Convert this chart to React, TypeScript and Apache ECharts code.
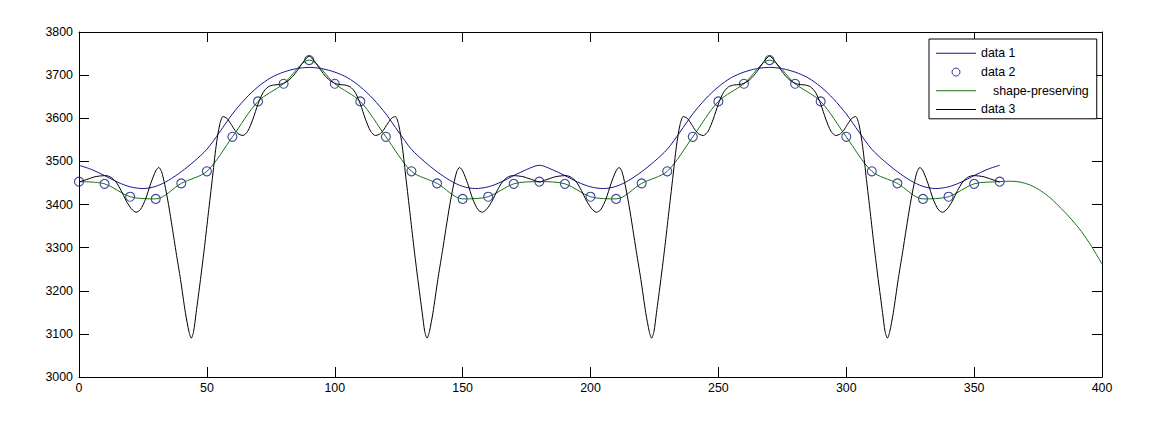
import React, { useEffect, useRef } from 'react';
import * as echarts from 'echarts';

const FONT = 'Liberation Sans, Arial, Helvetica, sans-serif';
const BLUE = '#16168f';
const NAVY = '#101088';
const GREEN = '#177217';
const BLACK = '#000000';

// data 1: smooth blue curve sampled every 5 units from x = 0 to 360
const data1Step = 5;
const data1Y = [
  3491, 3481, 3467, 3452, 3441, 3437, 3442, 3456, 3476, 3500, 3528, 3568, 3610, 3645, 3673, 3694, 3707, 3715, 3718,
  3715, 3707, 3694, 3673, 3645, 3610, 3568, 3528, 3500, 3476, 3456, 3442, 3437, 3441, 3452, 3467, 3481, 3491,
  3481, 3467, 3452, 3441, 3437, 3442, 3456, 3476, 3500, 3528, 3568, 3610, 3645, 3673, 3694, 3707, 3715, 3718,
  3715, 3707, 3694, 3673, 3645, 3610, 3568, 3528, 3500, 3476, 3456, 3442, 3437, 3441, 3452, 3467, 3481, 3491,
];

// data 2: circles at x = 0, 10, ..., 360
const data2X = [
  0, 10, 20, 30, 40, 50, 60, 70, 80, 90, 100, 110, 120, 130, 140, 150, 160, 170, 180,
  190, 200, 210, 220, 230, 240, 250, 260, 270, 280, 290, 300, 310, 320, 330, 340, 350, 360,
];
const data2Y = [
  3453, 3448, 3418, 3413, 3449, 3477, 3557, 3639, 3680, 3735, 3680, 3639, 3557, 3477, 3449, 3413, 3418, 3448, 3453,
  3448, 3418, 3413, 3449, 3477, 3557, 3639, 3680, 3735, 3680, 3639, 3557, 3477, 3449, 3413, 3418, 3448, 3453,
];

// shape-preserving curve beyond the last circle (extrapolated part)
const shapeTail: [number, number][] = [
  [364, 3454], [368, 3452], [372, 3445], [376, 3432], [380, 3414], [384, 3391],
  [388, 3366], [392, 3337], [396, 3302], [400, 3262],
];

// data 3: oscillating black curve
const data3: [number, number][] = [
  [0, 3452], [2, 3456], [4, 3460], [6, 3464], [8, 3466], [10.5, 3467], [12.5, 3463], [14.5, 3452],
  [16.5, 3432], [18.5, 3408], [20.5, 3390], [22.3, 3382], [24, 3388], [26, 3412], [28, 3448], [30, 3478],
  [31.2, 3486], [32.3, 3476], [33.5, 3447], [35, 3400], [36.5, 3345], [38, 3288], [39.7, 3226], [41.6, 3149],
  [43, 3105], [43.9, 3090], [44.8, 3105], [45.8, 3149], [47.5, 3226], [49.1, 3303], [50.6, 3381], [52.1, 3458],
  [53.6, 3535], [55, 3585], [56.3, 3604], [57.8, 3600], [59.5, 3586], [61, 3572], [62.5, 3563], [64.1, 3560],
  [66, 3570], [68, 3598], [70, 3633], [72, 3660], [74, 3673], [76, 3677], [78, 3678], [80, 3681],
  [82, 3688], [84, 3700], [86, 3716], [88, 3733], [90, 3744],
  [92, 3733], [94, 3716], [96, 3700], [98, 3688], [100, 3681], [102, 3678], [104, 3677], [106, 3673],
  [108, 3660], [110, 3633], [112, 3598], [114, 3570], [115.9, 3560], [117.5, 3563], [119, 3572], [120.5, 3586],
  [122.2, 3600], [123.7, 3604], [125, 3585], [126.4, 3535], [127.9, 3458], [129.4, 3381], [130.9, 3303], [132.5, 3226],
  [134.2, 3149], [135.2, 3105], [136.1, 3090], [137, 3105], [138.4, 3149], [140.3, 3226], [142, 3288], [143.5, 3345],
  [145, 3400], [146.5, 3447], [147.7, 3476], [148.8, 3486], [150, 3478], [152, 3448], [154, 3412], [156, 3388],
  [157.7, 3382], [159.5, 3390], [161.5, 3408], [163.5, 3432], [165.5, 3452], [167.5, 3463], [169.5, 3467], [172, 3466],
  [174, 3464], [176, 3460], [178, 3456], [180, 3452],
  [182, 3456], [184, 3460], [186, 3464], [188, 3466], [190.5, 3467], [192.5, 3463], [194.5, 3452],
  [196.5, 3432], [198.5, 3408], [200.5, 3390], [202.3, 3382], [204, 3388], [206, 3412], [208, 3448], [210, 3478],
  [211.2, 3486], [212.3, 3476], [213.5, 3447], [215, 3400], [216.5, 3345], [218, 3288], [219.7, 3226], [221.6, 3149],
  [223, 3105], [223.9, 3090], [224.8, 3105], [225.8, 3149], [227.5, 3226], [229.1, 3303], [230.6, 3381], [232.1, 3458],
  [233.6, 3535], [235, 3585], [236.3, 3604], [237.8, 3600], [239.5, 3586], [241, 3572], [242.5, 3563], [244.1, 3560],
  [246, 3570], [248, 3598], [250, 3633], [252, 3660], [254, 3673], [256, 3677], [258, 3678], [260, 3681],
  [262, 3688], [264, 3700], [266, 3716], [268, 3733], [270, 3744],
  [272, 3733], [274, 3716], [276, 3700], [278, 3688], [280, 3681], [282, 3678], [284, 3677], [286, 3673],
  [288, 3660], [290, 3633], [292, 3598], [294, 3570], [295.9, 3560], [297.5, 3563], [299, 3572], [300.5, 3586],
  [302.2, 3600], [303.7, 3604], [305, 3585], [306.4, 3535], [307.9, 3458], [309.4, 3381], [310.9, 3303], [312.5, 3226],
  [314.2, 3149], [315.2, 3105], [316.1, 3090], [317, 3105], [318.4, 3149], [320.3, 3226], [322, 3288], [323.5, 3345],
  [325, 3400], [326.5, 3447], [327.7, 3476], [328.8, 3486], [330, 3478], [332, 3448], [334, 3412], [336, 3388],
  [337.7, 3382], [339.5, 3390], [341.5, 3408], [343.5, 3432], [345.5, 3452], [347.5, 3463], [349.5, 3467], [352, 3466],
  [354, 3464], [356, 3460], [358, 3456], [360, 3452],
];

const X_MIN = 0, X_MAX = 400, X_INT = 50;
const Y_MIN = 3000, Y_MAX = 3800, Y_INT = 100;

const LINE_ICON = 'path://M0 0H40V1H0Z';

export default function App() {
  const ref = useRef<HTMLDivElement>(null);

  useEffect(() => {
    if (!ref.current) return;
    const chart = echarts.init(ref.current, undefined, { renderer: 'svg' });

    const data1 = data1Y.map((y, i) => [i * data1Step, y]);
    const data2 = data2X.map((x, i) => [x, data2Y[i]]);
    const shape = [...data2, ...shapeTail];

    const axisLine = { show: true, onZero: false, lineStyle: { color: BLACK, width: 1 } };
    const axisTick = { show: true, inside: true, length: 10, lineStyle: { color: BLACK, width: 1 } };
    const labelStyle = { color: BLACK, fontSize: 12.4, fontFamily: FONT, formatter: (v: number) => String(v) };

    chart.setOption({
      animation: false,
      backgroundColor: '#ffffff',
      grid: { left: 79, right: 55, top: 32, bottom: 44, containLabel: false },
      xAxis: [
        {
          type: 'value', position: 'bottom', min: X_MIN, max: X_MAX, interval: X_INT,
          axisLine, axisTick, splitLine: { show: false },
          axisLabel: { ...labelStyle, margin: 5 },
        },
        {
          type: 'value', position: 'top', min: X_MIN, max: X_MAX, interval: X_INT,
          axisLine, axisTick, splitLine: { show: false }, axisLabel: { show: false },
        },
      ],
      yAxis: [
        {
          type: 'value', position: 'left', min: Y_MIN, max: Y_MAX, interval: Y_INT,
          axisLine, axisTick, splitLine: { show: false },
          axisLabel: { ...labelStyle, margin: 6 },
        },
        {
          type: 'value', position: 'right', min: Y_MIN, max: Y_MAX, interval: Y_INT,
          axisLine, axisTick, splitLine: { show: false }, axisLabel: { show: false },
        },
      ],
      legend: {
        show: true,
        orient: 'vertical',
        left: 929,
        top: 39,
        padding: [7, 8, 2, 7],
        itemWidth: 40,
        itemHeight: 8,
        itemGap: 4,
        borderColor: BLACK,
        borderWidth: 1,
        borderRadius: 0,
        backgroundColor: '#ffffff',
        selectedMode: false,
        textStyle: { color: BLACK, fontSize: 12.4, fontFamily: FONT, lineHeight: 14.7 },
        data: [
          { name: 'data 1', icon: LINE_ICON, itemStyle: { color: BLUE } },
          { name: 'data 2', icon: 'circle', itemStyle: { color: 'rgba(0,0,0,0)', borderColor: NAVY, borderWidth: 1 } },
          { name: 'shape-preserving', icon: LINE_ICON, itemStyle: { color: GREEN }, textStyle: { padding: [0, 0, 0, 12] } },
          { name: 'data 3', icon: LINE_ICON, itemStyle: { color: BLACK } },
        ],
      },
      series: [
        {
          name: 'data 1', type: 'line', data: data1, symbol: 'none', smooth: 0.3,
          lineStyle: { color: BLUE, width: 1 }, itemStyle: { color: BLUE }, silent: true,
        },
        {
          name: 'data 2', type: 'scatter', data: data2, symbol: 'circle', symbolSize: 9,
          itemStyle: { color: 'rgba(0,0,0,0)', borderColor: NAVY, borderWidth: 1.1 }, silent: true,
        },
        {
          name: 'shape-preserving', type: 'line', data: shape, symbol: 'none', smooth: 0.3,
          lineStyle: { color: GREEN, width: 1 }, itemStyle: { color: GREEN }, silent: true,
        },
        {
          name: 'data 3', type: 'line', data: data3, symbol: 'none', smooth: 0.25,
          lineStyle: { color: BLACK, width: 1 }, itemStyle: { color: BLACK }, silent: true,
        },
      ],
    });

    return () => chart.dispose();
  }, []);

  return (
    <div
      ref={ref}
      style={{ position: 'fixed', left: 0, top: 0, width: 1157, height: 421, background: '#fff' }}
    />
  );
}
